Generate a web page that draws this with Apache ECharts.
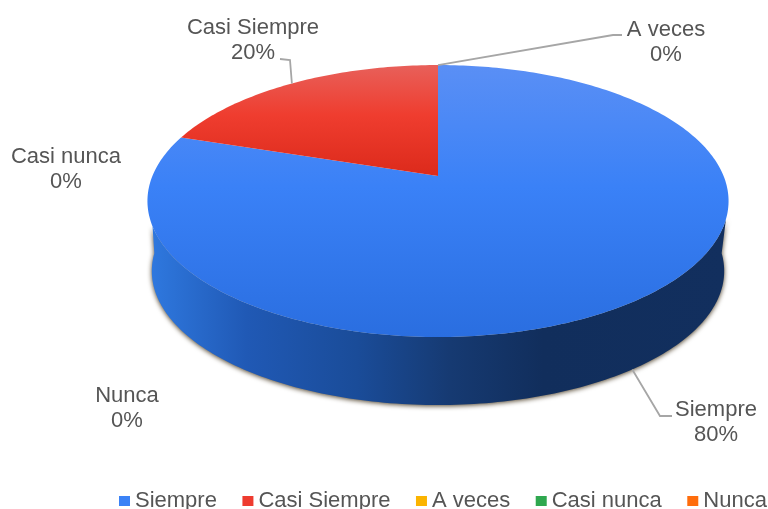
<!DOCTYPE html>
<html><head><meta charset="utf-8">
<style>html,body{margin:0;padding:0;background:#fff}#c{width:768px;height:509px;filter:blur(0.45px)}</style>
<script src="https://cdn.jsdelivr.net/npm/echarts@6/dist/echarts.min.js"></script>
</head><body><div id="c"></div>
<script>
const categories = ['Siempre', 'Casi Siempre', 'A veces', 'Casi nunca', 'Nunca'];
const values = [80, 20, 0, 0, 0];
const legendColors = ['#3b82f6', '#ee3b2f', '#fbb400', '#2fa84f', '#ff6d0c'];

// Perspective projection of the unit disc on to the page
const view = { cx: 438, cy: 176, a: 285.6, b: 131.4, k: -0.184, depth: 70.4, baseScale: 0.985 };
// Visible part of the side wall, clockwise degrees from 12 o'clock
const wallTop = [108, 249], wallBase = [93, 267];
// Label centres and optional elbow of the leader line, in page pixels
const labelLayout = [
  { x: 716, y: 422, bend: [[660, 416], [672, 416]], from: 'base' },
  { x: 253, y: 40,  bend: [[290, 60], [280, 59]], from: 'top' },
  { x: 666, y: 42,  bend: [[613, 35], [622, 35]], from: 'top' },
  { x: 66,  y: 169 },
  { x: 127, y: 408 }
];

const total = values.reduce((s, v) => s + v, 0);
const starts = [];
values.reduce((s, v, i) => (starts[i] = s, s + v), 0);
const ang = v => v / total * 360;

function project(deg, base) {
  const t = deg * Math.PI / 180, u = Math.sin(t), v = -Math.cos(t);
  const w = 1 + view.k * v, s = base ? view.baseScale : 1;
  return [view.cx + s * view.a * u / w, view.cy + (base ? view.depth : 0) + s * view.b * v / w];
}
function arc(a0, a1, base) {
  const pts = [], n = Math.max(1, Math.ceil(Math.abs(a1 - a0)));
  for (let i = 0; i <= n; i++) pts.push(project(a0 + (a1 - a0) * i / n, base));
  return pts;
}
const LG = (x, y, x2, y2, stops) => new echarts.graphic.LinearGradient(x, y, x2, y2,
  stops.map(s => ({ offset: s[0], color: s[1] })), true);

const topFill = [
  LG(0, 65, 0, 337, [[0, '#5a8ff5'], [0.45, '#3a81f7'], [1, '#2a6ee0']]),
  LG(0, 65, 0, 176, [[0, '#e8605a'], [0.45, '#ef3d2f'], [1, '#dc2a1b']])
];
const wallFill = LG(148, 0, 729, 0, [[0, '#2f79e0'], [0.17, '#2059b5'], [0.36, '#1a4c99'], [0.52, '#163a72'], [0.68, '#112e5c'], [1, '#122f5e']]);

function renderSlice(i) {
  return function (params, api) {
    const val = api.value(0), a0 = ang(starts[i]), a1 = a0 + ang(val), children = [];
    if (val > 0) {
      const t0 = Math.max(a0, wallTop[0]), t1 = Math.min(a1, wallTop[1]);
      const b0 = Math.max(a0, wallBase[0]), b1 = Math.min(a1, wallBase[1]);
      if (t1 > t0) {
        children.push({ type: 'polygon', shape: { points: arc(t0, t1, false).concat(arc(b1, b0, true)) },
          style: { fill: wallFill, shadowBlur: 5, shadowColor: 'rgba(60,45,20,0.9)', shadowOffsetX: 0, shadowOffsetY: 1 } });
      }
      children.push({ type: 'polygon', shape: { points: [[view.cx, view.cy]].concat(arc(a0, a1, false)) },
        style: { fill: topFill[i] } });
    }
    const lay = labelLayout[i];
    if (lay.bend) {
      children.push({ type: 'polyline',
        shape: { points: [project(a0 + ang(val) / 2, lay.from === 'base')].concat(lay.bend) },
        style: { fill: null, stroke: '#a6a6a6', lineWidth: 1.8 } });
    }
    children.push({ type: 'text', style: {
      text: categories[i] + '\n' + Math.round(val / total * 100) + '%',
      x: lay.x, y: lay.y, align: 'center', verticalAlign: 'middle', lineHeight: 25,
      font: '22px "Liberation Sans"', fill: '#555555' } });
    return { type: 'group', children };
  };
}

const chart = echarts.init(document.getElementById('c'), null, { renderer: 'canvas' });
chart.setOption({
  animation: false,
  backgroundColor: '#ffffff',
  legend: {
    left: 119, top: 490, width: 680, padding: 0, itemWidth: 11, itemHeight: 10, itemGap: 25.5, icon: 'rect',
    selectedMode: false,
    textStyle: { fontFamily: 'Liberation Sans', fontSize: 22, color: '#555555' },
    data: categories
  },
  series: categories.map((name, i) => ({
    type: 'custom', name, coordinateSystem: 'none', silent: true,
    itemStyle: { color: legendColors[i] },
    data: [[values[i]]],
    renderItem: renderSlice(i)
  }))
});
</script></body></html>
